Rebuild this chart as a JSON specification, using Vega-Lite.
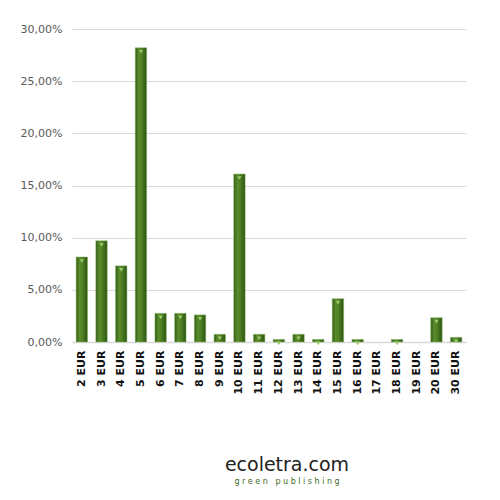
{
  "$schema": "https://vega.github.io/schema/vega-lite/v6.json",
  "autosize": "none",
  "width": 394,
  "height": 313,
  "padding": {"left": 72, "top": 29, "right": 34, "bottom": 158},
  "background": "white",
  "config": {"view": {"stroke": null}, "font": "DejaVu Sans"},
  "title": {
    "text": "ecoletra.com",
    "subtitle": "g r e e n \u00a0\u00a0p u b l i s h i n g",
    "orient": "bottom",
    "anchor": "middle",
    "dx": 18,
    "offset": 62,
    "font": "DejaVu Sans",
    "fontSize": 19,
    "fontWeight": "normal",
    "color": "#222222",
    "subtitleFont": "DejaVu Sans",
    "subtitleFontSize": 8,
    "subtitleColor": "#3d6b1c",
    "subtitlePadding": 3
  },
  "data": {
    "values": [
      {"price": "2 EUR", "share": 0.0815},
      {"price": "3 EUR", "share": 0.097},
      {"price": "4 EUR", "share": 0.073},
      {"price": "5 EUR", "share": 0.282},
      {"price": "6 EUR", "share": 0.0275},
      {"price": "7 EUR", "share": 0.0275},
      {"price": "8 EUR", "share": 0.026},
      {"price": "9 EUR", "share": 0.0074},
      {"price": "10 EUR", "share": 0.161},
      {"price": "11 EUR", "share": 0.0074},
      {"price": "12 EUR", "share": 0.0025},
      {"price": "13 EUR", "share": 0.0074},
      {"price": "14 EUR", "share": 0.0025},
      {"price": "15 EUR", "share": 0.0415},
      {"price": "16 EUR", "share": 0.0025},
      {"price": "17 EUR", "share": 0},
      {"price": "18 EUR", "share": 0.0025},
      {"price": "19 EUR", "share": 0},
      {"price": "20 EUR", "share": 0.0233},
      {"price": "30 EUR", "share": 0.0045}
    ]
  },
  "encoding": {
    "x": {
      "field": "price",
      "type": "nominal",
      "sort": null,
      "scale": {"paddingInner": 0.42, "paddingOuter": 0.21},
      "axis": {
        "title": null,
        "labelAngle": -90,
        "labelFontSize": 11,
        "labelFontWeight": "bold",
        "labelColor": "#111111",
        "labelFont": "DejaVu Sans",
        "labelPadding": 8,
        "ticks": false,
        "domainColor": "#d9d9d9",
        "domainWidth": 1.5
      }
    },
    "y": {
      "field": "share",
      "type": "quantitative",
      "scale": {"domain": [0, 0.3]},
      "axis": {
        "title": null,
        "values": [0, 0.05, 0.1, 0.15, 0.2, 0.25, 0.3],
        "labelExpr": "replace(format(datum.value, '.2%'), '.', ',')",
        "labelFontSize": 11,
        "labelColor": "#595959",
        "labelPadding": 10,
        "ticks": false,
        "domain": false,
        "gridColor": "#d9d9d9",
        "gridWidth": 1
      }
    }
  },
  "layer": [
    {
      "mark": {
        "type": "bar",
        "color": {
          "gradient": "linear",
          "x1": 0, "x2": 1, "y1": 0, "y2": 0,
          "stops": [
            {"offset": 0, "color": "#2f5a15"},
            {"offset": 0.3, "color": "#5a8c2c"},
            {"offset": 0.55, "color": "#4f8024"},
            {"offset": 1, "color": "#2c5512"}
          ]
        },
        "stroke": "#8fb868",
        "strokeWidth": 0.5
      },
      "encoding": {
        "strokeOpacity": {"condition": {"test": "datum.share > 0", "value": 1}, "value": 0}
      }
    },
    {
      "transform": [{"filter": "datum.share > 0"}],
      "mark": {"type": "point", "shape": "triangle-down", "filled": true, "size": 18, "color": "#9ccc6a", "opacity": 1, "yOffset": 4}
    }
  ]
}
